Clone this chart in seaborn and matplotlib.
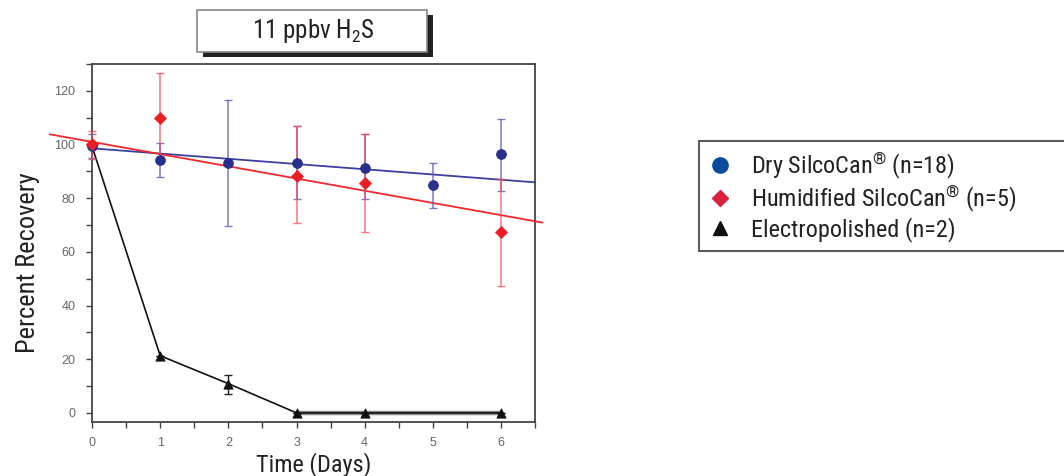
import numpy as np
import pandas as pd
import matplotlib
matplotlib.use("Agg")
import matplotlib.pyplot as plt
import seaborn as sns
from matplotlib import font_manager
from matplotlib.lines import Line2D
from matplotlib.patches import Rectangle
from matplotlib.ticker import MultipleLocator

# Data
dry_days = [0, 1, 2, 3, 4, 5, 6]
dry_mean = [99.4, 94.4, 93.2, 93.3, 91.4, 84.9, 96.3]
dry_lo = [95.0, 88.0, 69.6, 79.7, 79.7, 76.3, 82.7]
dry_hi = [104.0, 100.4, 116.5, 106.8, 103.8, 93.2, 109.7]

hum_days = [0, 1, 3, 4, 6]
hum_mean = [100.1, 109.9, 88.4, 85.5, 67.3]
hum_lo = [94.8, 93.2, 70.9, 67.3, 47.3]
hum_hi = [105.0, 126.8, 106.8, 103.8, 87.1]

ep_days = [0, 1, 2, 3, 4, 6]
ep_mean = [99.3, 21.3, 10.9, 0.0, 0.0, 0.0]
ep_lo = [99.3, 21.3, 7.0, 0.0, 0.0, 0.0]
ep_hi = [99.3, 21.3, 14.0, 0.0, 0.0, 0.0]

# linear trend lines (intercept, slope) and the x span they are drawn over
dry_fit = (98.6, -1.95)
dry_fit_span = (0.0, 6.5)
hum_fit = (101.0, -4.55)
hum_fit_span = (-0.62, 6.61)

labels = ["Dry SilcoCan$^{\\mathregular{®}}$ (n=18)",
          "Humidified SilcoCan$^{\\mathregular{®}}$ (n=5)",
          "Electropolished (n=2)"]

# pick a condensed face if one is installed, else a narrower regular one at smaller size
installed = {f.name for f in font_manager.fontManager.ttflist}
narrow = [n for n in ["Liberation Sans Narrow", "Roboto Condensed", "DejaVu Sans Condensed"]
          if n in installed]
if narrow:
    face, k = narrow[0], 1.0
else:
    face, k = "Roboto", 0.83

sns.set_style("ticks")
plt.rcParams['font.family'] = [face, 'DejaVu Sans']
plt.rcParams['mathtext.default'] = 'regular'

fig = plt.figure(figsize=(10.64, 4.76), dpi=100)
ax = fig.add_axes([0.0865, 0.1134, 0.4164, 0.752])

dry = pd.DataFrame({"day": dry_days, "mean": dry_mean, "lo": dry_lo, "hi": dry_hi})
hum = pd.DataFrame({"day": hum_days, "mean": hum_mean, "lo": hum_lo, "hi": hum_hi})
ep = pd.DataFrame({"day": ep_days, "mean": ep_mean, "lo": ep_lo, "hi": ep_hi})

blue = "#28308c"
red = "#ec1c24"

# electropolished line
zero = ep[ep["mean"] == 0]
ax.plot(zero["day"], zero["mean"], color="#8a8a8a", lw=3.2, zorder=1)
sns.lineplot(data=ep, x="day", y="mean", color="#111111", lw=1.2, ax=ax,
             zorder=2, estimator=None, sort=False)
ax.errorbar(ep["day"], ep["mean"], yerr=[ep["mean"] - ep["lo"], ep["hi"] - ep["mean"]],
            fmt="none", ecolor="#222222", elinewidth=1, capsize=3, zorder=2)
sns.scatterplot(data=ep[ep["day"] > 0], x="day", y="mean", marker="^", color="#111111",
                s=45, edgecolor="#111111", ax=ax, zorder=5)

# trend lines
xs = np.array(dry_fit_span)
ax.plot(xs, dry_fit[0] + dry_fit[1] * xs, color="#3b3fa0", lw=1.3, zorder=3, clip_on=False)
xs = np.array(hum_fit_span)
ax.plot(xs, hum_fit[0] + hum_fit[1] * xs, color="#f0282e", lw=1.3, zorder=3, clip_on=False)

# error bars
for d, col, a in [(dry, "#5a5ab0", 0.8), (hum, "#f04850", 0.75)]:
    eb = ax.errorbar(d["day"], d["mean"], yerr=[d["mean"] - d["lo"], d["hi"] - d["mean"]],
                     fmt="none", ecolor=col, alpha=a, elinewidth=1.1, capsize=3, zorder=3)
    for art in eb.lines[1] + eb.lines[2]:
        art.set_clip_on(False)

sns.scatterplot(data=dry, x="day", y="mean", marker="o", color=blue, s=50,
                edgecolor=blue, ax=ax, zorder=6, clip_on=False)
sns.scatterplot(data=hum, x="day", y="mean", marker="D", color=red, s=38,
                edgecolor=red, ax=ax, zorder=7, clip_on=False)

ax.set_xlim(0, 6.5)
ax.set_ylim(-3.4, 130)
ax.xaxis.set_major_locator(MultipleLocator(1))
ax.xaxis.set_minor_locator(MultipleLocator(0.5))
ax.yaxis.set_major_locator(MultipleLocator(20))
ax.yaxis.set_minor_locator(MultipleLocator(10))
ax.tick_params(which="both", direction="out", length=4, width=1, color="#444444",
               labelsize=9, labelcolor="#666666", top=False, right=False)
ax.tick_params(axis="x", pad=7)
ax.tick_params(axis="y", pad=8)
for lab in ax.get_xticklabels() + ax.get_yticklabels():
    lab.set_family(["Liberation Sans", "DejaVu Sans"])
for sp in ax.spines.values():
    sp.set_visible(True)
    sp.set_color("#444444")
    sp.set_linewidth(1.3)

ax.set_xlabel("Time (Days)", fontsize=17.5 * k, color="#222222")
ax.set_ylabel("Percent Recovery", fontsize=19 * k, color="#222222")
ax.yaxis.set_label_coords(-0.118, 0.444)
ax.xaxis.set_label_coords(0.5, -0.085)

# title box with drop shadow
W, H = 1064, 476
fig.patches.append(Rectangle((203 / W, 1 - 57 / H), 230 / W, 42 / H, transform=fig.transFigure,
                             facecolor="#222222", edgecolor="none", zorder=1))
fig.patches.append(Rectangle((197 / W, 1 - 52 / H), 230 / W, 42 / H, transform=fig.transFigure,
                             facecolor="white", edgecolor="#888888", lw=1.2, zorder=2))
fig.text(313 / W, 1 - 31 / H, "11 ppbv H$_{2}$S", ha="center", va="center",
         fontsize=18 * k, color="#222222", zorder=3)

# legend
handles = [Line2D([], [], ls="none", marker="o", ms=11, color="#0a4c9c"),
           Line2D([], [], ls="none", marker="D", ms=8.5, color="#d9203c"),
           Line2D([], [], ls="none", marker="^", ms=10, color="#111111")]
leg = fig.legend(handles, labels, loc="upper left", mode="expand",
                 bbox_to_anchor=(699 / W, 0, 0.5, 1 - 141 / H), borderaxespad=0,
                 fontsize=17.5 * k, frameon=True, fancybox=False, borderpad=0.38,
                 labelspacing=0.1, handlelength=1.0, handletextpad=0.75)
leg.get_frame().set_edgecolor("#333333")
leg.get_frame().set_linewidth(1.5)
for t in leg.get_texts():
    t.set_color("#222222")

fig.savefig("out.png", dpi=100)
